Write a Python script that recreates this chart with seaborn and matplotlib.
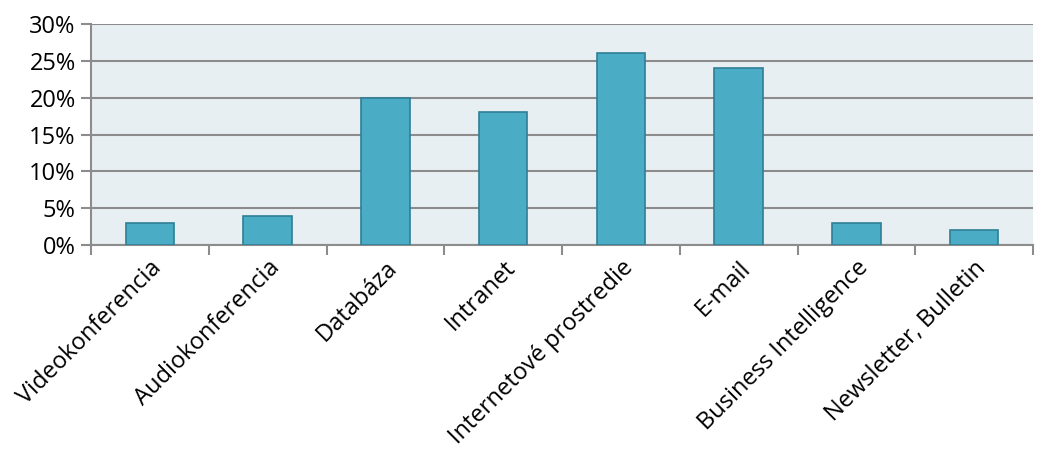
import matplotlib
matplotlib.use("Agg")
import matplotlib.pyplot as plt
import seaborn as sns
import pandas as pd
import numpy as np
from matplotlib.ticker import FuncFormatter, FixedLocator

categories = ["Videokonferencia", "Audiokonferencia", "Databáza", "Intranet",
              "Internetové prostredie", "E-mail", "Business Intelligence",
              "Newsletter, Bulletin"]
values = [3, 4, 20, 18, 26, 24, 3, 2]

sns.set_theme(style="white")
plt.rcParams['font.family'] = ['Open Sans', 'DejaVu Sans']

df = pd.DataFrame({"cat": categories, "val": values})

fig = plt.figure(figsize=(10.43, 4.53), dpi=100)
ax = fig.add_axes([91/1043, 1-245/453, (1033-91)/1043, (245-24)/453])
ax.set_facecolor("#E8EFF3")

sns.barplot(data=df, x="cat", y="val", color="#4BACC6", width=0.41,
            edgecolor="#2F7F96", linewidth=1.2, saturation=1, ax=ax, zorder=3)

ax.set_ylim(0, 30)
ax.set_xlim(-0.5, len(categories) - 0.5)
ax.set_yticks(np.arange(0, 31, 5))
ax.yaxis.set_major_formatter(FuncFormatter(lambda v, p: f"{int(v)}%"))
ax.grid(axis="y", color="#8C8C8C", linewidth=1.5, zorder=1)
ax.set_axisbelow(True)

for s in ["top", "right"]:
    ax.spines[s].set_visible(False)
for s in ["left", "bottom"]:
    ax.spines[s].set_color("#8C8C8C")
    ax.spines[s].set_linewidth(1.5)

ax.tick_params(axis="y", which="major", length=7, width=1.5, color="#8C8C8C",
               labelsize=17, labelcolor="black", direction="out", left=True, pad=4)
ax.tick_params(axis="x", which="major", length=0, labelsize=17, labelcolor="black", pad=8)
ax.xaxis.set_minor_locator(FixedLocator(np.arange(-0.5, len(categories), 1.0)))
ax.tick_params(axis="x", which="minor", length=7, width=1.5, color="#8C8C8C",
               direction="out", bottom=True)

ax.set_xticks(range(len(categories)))
ax.set_xticklabels(categories, rotation=45, ha="right", rotation_mode="anchor")
ax.set_xlabel("")
ax.set_ylabel("")

fig.savefig("out.png", dpi=100)
